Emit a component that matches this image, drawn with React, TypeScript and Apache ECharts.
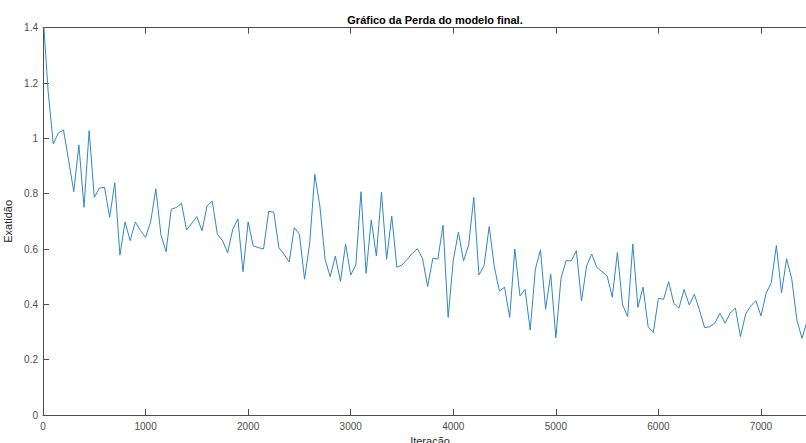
import React, { useEffect, useRef } from "react";
import * as echarts from "echarts";

const TITLE = "Gráfico da Perda do modelo final.";
const X_LABEL = "Iteração";
const Y_LABEL = "Exatidão";
const ITER_STEP = 50;
const lossValues: number[] = [
  1.45, 1.17, 0.98, 1.02, 1.03, 0.92, 0.807, 0.976, 0.751, 1.028,
  0.787, 0.82, 0.823, 0.715, 0.84, 0.578, 0.698, 0.63, 0.698, 0.667,
  0.642, 0.699, 0.818, 0.651, 0.59, 0.744, 0.75, 0.765, 0.669, 0.693,
  0.717, 0.666, 0.756, 0.773, 0.654, 0.63, 0.587, 0.671, 0.709, 0.518,
  0.698, 0.611, 0.605, 0.6, 0.736, 0.733, 0.605, 0.581, 0.553, 0.677,
  0.653, 0.491, 0.621, 0.87, 0.753, 0.563, 0.5, 0.575, 0.483, 0.618,
  0.506, 0.542, 0.807, 0.512, 0.705, 0.575, 0.805, 0.563, 0.719, 0.534,
  0.542, 0.563, 0.584, 0.601, 0.566, 0.464, 0.566, 0.564, 0.686, 0.353,
  0.56, 0.661, 0.557, 0.615, 0.787, 0.506, 0.54, 0.681, 0.536, 0.448,
  0.462, 0.353, 0.6, 0.43, 0.454, 0.307, 0.527, 0.597, 0.382, 0.509,
  0.279, 0.494, 0.558, 0.557, 0.594, 0.412, 0.539, 0.582, 0.533, 0.518,
  0.503, 0.426, 0.588, 0.398, 0.356, 0.618, 0.389, 0.462, 0.319, 0.298,
  0.422, 0.418, 0.482, 0.404, 0.386, 0.454, 0.398, 0.436, 0.38, 0.316,
  0.319, 0.332, 0.368, 0.332, 0.368, 0.387, 0.283, 0.365, 0.394, 0.413,
  0.358, 0.44, 0.478, 0.613, 0.442, 0.565, 0.491, 0.343, 0.277, 0.34,
];
const X_MAX = 7546;
const Y_MAX = 1.4;

const FONT = "'Liberation Sans', Arial, Helvetica, sans-serif";
const AXIS_COLOR = "#4d4d4d";

export default function App() {
  const ref = useRef<HTMLDivElement>(null);
  useEffect(() => {
    if (!ref.current) return;
    const chart = echarts.init(ref.current, undefined, { renderer: "svg" });
    const data = lossValues.map((v, i) => [i * ITER_STEP, v]);
    chart.setOption({
      animation: false,
      backgroundColor: "#ffffff",
      title: {
        text: TITLE,
        left: 430,
        top: 9,
        textAlign: "center",
        textStyle: { fontFamily: FONT, fontSize: 11, fontWeight: "bold", color: "#000" },
      },
      grid: {
        left: 43,
        right: 0,
        top: 27.7,
        bottom: 28,
        containLabel: false,
        outerBoundsMode: "none",
      },
      xAxis: [
        {
          type: "value",
          min: 0,
          max: X_MAX,
          interval: 1000,
          position: "bottom",
          name: X_LABEL,
          nameLocation: "middle",
          nameGap: 19,
          nameTextStyle: { fontFamily: FONT, fontSize: 11, color: "#262626" },
          axisLine: { show: true, lineStyle: { color: AXIS_COLOR, width: 1 } },
          axisTick: { show: true, inside: true, length: 6, lineStyle: { color: AXIS_COLOR } },
          axisLabel: {
            fontFamily: FONT,
            fontSize: 10,
            color: "#4d4d4d",
            margin: 6,
            showMaxLabel: false,
            formatter: (v: number) => (v % 1000 === 0 ? String(v) : ""),
          },
          splitLine: { show: false },
        },
        {
          type: "value",
          min: 0,
          max: X_MAX,
          interval: 1000,
          position: "top",
          axisLine: { show: true, lineStyle: { color: AXIS_COLOR, width: 1 } },
          axisTick: { show: true, inside: true, length: 6, lineStyle: { color: AXIS_COLOR } },
          axisLabel: { show: false },
          splitLine: { show: false },
        },
      ],
      yAxis: {
        type: "value",
        min: 0,
        max: Y_MAX,
        interval: 0.2,
        name: Y_LABEL,
        nameLocation: "middle",
        nameGap: 15,
        nameTextStyle: { fontFamily: FONT, fontSize: 11, color: "#262626" },
        axisLine: { show: true, lineStyle: { color: AXIS_COLOR, width: 1 } },
        axisTick: { show: true, inside: true, length: 6, lineStyle: { color: AXIS_COLOR } },
        axisLabel: { fontFamily: FONT, fontSize: 10, color: "#4d4d4d", margin: 5 },
        splitLine: { show: false },
      },
      series: [
        {
          type: "line",
          data,
          xAxisIndex: 0,
          symbol: "none",
          clip: true,
          lineStyle: { color: "#3187c6", width: 1 },
        },
      ],
    });
    return () => chart.dispose();
  }, []);
  return (
    <div
      style={{
        position: "fixed",
        left: 0,
        top: 0,
        width: 806,
        height: 443,
        overflow: "hidden",
        background: "#fff",
      }}
    >
      <div ref={ref} style={{ width: 817, height: 443 }} />
    </div>
  );
}
